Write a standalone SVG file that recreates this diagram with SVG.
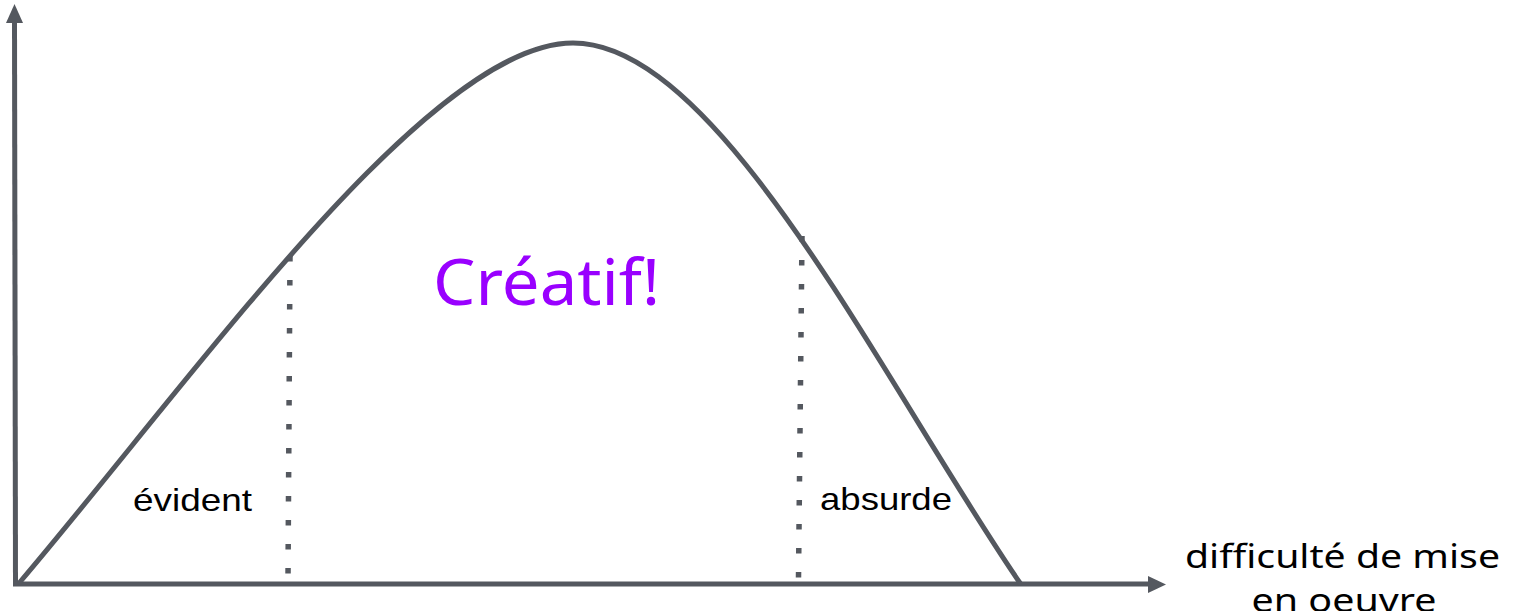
<svg xmlns="http://www.w3.org/2000/svg" width="1517" height="611" viewBox="0 0 1517 611">
<style>
.ax{stroke:#54585f;stroke-width:5;fill:none}
.head{fill:#54585f}
.dots{stroke:#54585f;stroke-width:5.5;fill:none;stroke-dasharray:5.5 18.5}
.curve{stroke:#54585f;stroke-width:5;fill:none;stroke-linecap:round}
.lbl{font-family:"Liberation Sans",Arial,sans-serif;font-size:32px;fill:#000}
.big{font-family:"Noto Sans","Open Sans",sans-serif;font-size:64px;fill:#9900ff}
.axl{font-family:"Noto Sans","Open Sans",sans-serif;font-size:33px;fill:#000}
</style>
<rect width="1517" height="611" fill="#fff"/>
<g id="connectors">
<g id="y-axis">
<line class="ax" x1="15.5" y1="584" x2="14.5" y2="20"/>
<polygon class="head" points="6,23 14.5,4 23,23"/>
</g>
<g id="x-axis">
<line class="ax" x1="13" y1="584" x2="1150" y2="584"/>
<polygon class="head" points="1148,576 1166,584.5 1148,593"/>
</g>
<line id="sep-left" class="dots" x1="290" y1="256" x2="288" y2="578"/>
<line id="sep-right" class="dots" x1="802" y1="236" x2="798.5" y2="578"/>
<path id="curve" class="curve" d="M20,582 C200,370 430,43 573,43 C720,43 883,383 1020,583"/>
</g>
<g id="label-creatif">
<text class="big" x="433" y="305" textLength="227" lengthAdjust="spacingAndGlyphs">Créatif!</text>
</g>
<g id="label-evident">
<text class="lbl" x="133" y="511" textLength="119" lengthAdjust="spacingAndGlyphs">évident</text>
</g>
<g id="label-absurde">
<text class="lbl" x="820" y="510" textLength="132" lengthAdjust="spacingAndGlyphs">absurde</text>
</g>
<g id="label-axis">
<text class="axl" x="1185" y="568" textLength="315" lengthAdjust="spacingAndGlyphs">difficulté de mise</text>
<text class="axl" x="1344" y="612" text-anchor="middle" textLength="185" lengthAdjust="spacingAndGlyphs">en oeuvre</text>
</g>
</svg>
